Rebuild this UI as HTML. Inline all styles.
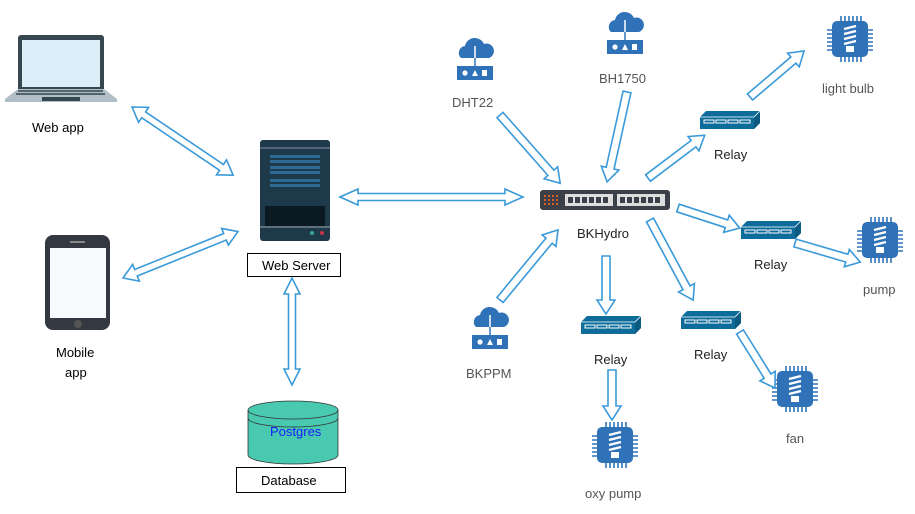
<!DOCTYPE html>
<html><head><meta charset="utf-8"><style>
html,body{margin:0;padding:0;background:#fff;}
svg{display:block;}
text{font-family:"Liberation Sans",sans-serif;font-size:13px;}
</style></head><body>
<svg width="915" height="514" viewBox="0 0 915 514" xmlns="http://www.w3.org/2000/svg">
<defs>
<g id="chip">
 <g stroke="#2f72b8" stroke-width="1.6">
  <path d="M16 2v8M20 2v8M24 2v8M28 2v8M32 2v8M36 2v8M16 40v8M20 40v8M24 40v8M28 40v8M32 40v8M36 40v8M2 16h8M2 20h8M2 24h8M2 28h8M2 32h8M2 36h8M40 16h8M40 20h8M40 24h8M40 28h8M40 32h8M40 36h8"/>
 </g>
 <rect x="7" y="7" width="36" height="36" rx="5" fill="#2f72b8"/>
 <g stroke="#fff" stroke-width="2.2" fill="none"><path d="M19 15l12-3M19 20l12-3M19 25l12-3M19 30l12-3"/></g>
 <rect x="21" y="32" width="8" height="6" fill="#fff"/>
</g>
<g id="cloud">
 <path d="M6 22a7 7 0 0 1 4-12a10 10 0 0 1 19-2a7 7 0 0 1 5 14z" fill="#2f72b8"/>
 <line x1="20" y1="10" x2="20" y2="32" stroke="#fff" stroke-width="1.5"/>
 <line x1="20" y1="22" x2="20" y2="32" stroke="#2f72b8" stroke-width="1.5"/>
 <rect x="2" y="30" width="36" height="14" fill="#2f72b8"/>
 <circle cx="10" cy="37" r="2.6" fill="#fff"/><path d="M17 40l3-6 3 6z" fill="#fff"/><rect x="27" y="34" width="5" height="6" fill="#fff"/>
</g>
<g id="relay">
 <path d="M0 6l6-6h54v12l-6 6H0z" fill="#0e6c9b"/>
 <path d="M54 6l6-6v12l-6 6z" fill="#0a5a82"/>
 <path d="M0 6h54l6-6" stroke="#fff" stroke-width="0.8" fill="none"/>
 <g fill="none" stroke="#fff" stroke-width="1"><rect x="4" y="9" width="10" height="3"/><rect x="16" y="9" width="10" height="3"/><rect x="28" y="9" width="10" height="3"/><rect x="40" y="9" width="10" height="3"/></g>
</g>
</defs>

<!-- laptop -->
<rect x="18" y="35" width="86" height="58" rx="3" fill="#37474f"/>
<rect x="22" y="40" width="78" height="47" fill="#dceef8"/>
<path d="M5 99l13-10h86l13 10v3H5z" fill="#b0bec5"/>
<g stroke="#37474f" stroke-width="1.5"><path d="M18 91h85M16 94h89"/></g>
<rect x="42" y="97" width="38" height="4" fill="#37474f"/>
<text x="32" y="132">Web app</text>

<!-- phone -->
<rect x="45" y="235" width="65" height="95" rx="8" fill="#333841"/>
<rect x="50" y="248" width="56" height="70" fill="#f8fbfd"/>
<rect x="70" y="241" width="15" height="2" fill="#888"/>
<circle cx="78" cy="324" r="4" fill="#555"/>
<text x="56" y="357">Mobile</text><text x="65" y="377">app</text>

<!-- server -->
<rect x="260" y="140" width="70" height="101" rx="3" fill="#1e3a4a"/>
<line x1="260" y1="148" x2="330" y2="148" stroke="#aac" stroke-width="0.8"/>
<g fill="#2d6a94"><rect x="270" y="155" width="50" height="3"/><rect x="270" y="160" width="50" height="3"/><rect x="270" y="166" width="50" height="3"/><rect x="270" y="171" width="50" height="3"/><rect x="270" y="179" width="50" height="3"/><rect x="270" y="184" width="50" height="3"/></g>
<rect x="265" y="206" width="60" height="20" fill="#0b1a22"/>
<line x1="260" y1="227" x2="330" y2="227" stroke="#ccc" stroke-width="0.8"/>
<circle cx="312" cy="233" r="2" fill="#3a9"/><circle cx="322" cy="233" r="2" fill="#c34"/>
<rect x="247.5" y="253.5" width="93" height="23" fill="#fff" stroke="#000"/>
<text x="262" y="270" fill="#000">Web Server</text>

<!-- DB -->
<path d="M248 410v45a45 9 0 0 0 90 0v-45" fill="#48c9b0" stroke="#333" stroke-width="0.8"/>
<ellipse cx="293" cy="410" rx="45" ry="9" fill="#48c9b0" stroke="#333" stroke-width="0.8"/>
<path d="M248 418a45 9 0 0 0 90 0" fill="none" stroke="#333" stroke-width="0.8"/>
<text x="270" y="436" fill="#1a1aff">Postgres</text>
<rect x="236.5" y="467.5" width="109" height="25" fill="#fff" stroke="#000"/>
<text x="261" y="485" fill="#000">Database</text>

<!-- switch -->
<rect x="540" y="190" width="130" height="20" rx="3" fill="#3a3f48"/>
<rect x="565" y="194" width="48" height="12" fill="#ddd"/><rect x="617" y="194" width="48" height="12" fill="#ddd"/>
<g fill="#e05a2a"><rect x="544" y="195" width="2" height="2"/><rect x="548" y="195" width="2" height="2"/><rect x="552" y="195" width="2" height="2"/><rect x="556" y="195" width="2" height="2"/><rect x="544" y="199" width="2" height="2"/><rect x="548" y="199" width="2" height="2"/><rect x="552" y="199" width="2" height="2"/><rect x="556" y="199" width="2" height="2"/><rect x="544" y="203" width="2" height="2"/><rect x="548" y="203" width="2" height="2"/><rect x="552" y="203" width="2" height="2"/><rect x="556" y="203" width="2" height="2"/></g>
<g fill="#3a3f48"><rect x="568" y="197" width="5" height="6"/><rect x="575" y="197" width="5" height="6"/><rect x="582" y="197" width="5" height="6"/><rect x="589" y="197" width="5" height="6"/><rect x="596" y="197" width="5" height="6"/><rect x="603" y="197" width="5" height="6"/><rect x="620" y="197" width="5" height="6"/><rect x="627" y="197" width="5" height="6"/><rect x="634" y="197" width="5" height="6"/><rect x="641" y="197" width="5" height="6"/><rect x="648" y="197" width="5" height="6"/><rect x="655" y="197" width="5" height="6"/></g>
<text x="577" y="238" fill="#222">BKHydro</text>

<!-- sensors -->
<use href="#cloud" x="455" y="36"/><text x="452" y="107" fill="#555">DHT22</text>
<use href="#cloud" x="605" y="10"/><text x="599" y="83" fill="#555">BH1750</text>
<use href="#cloud" x="470" y="305"/><text x="466" y="378" fill="#555">BKPPM</text>

<!-- relays -->
<use href="#relay" x="700" y="111"/><text x="714" y="159" fill="#222">Relay</text>
<use href="#relay" x="741" y="221"/><text x="754" y="269" fill="#222">Relay</text>
<use href="#relay" x="581" y="316"/><text x="594" y="364" fill="#222">Relay</text>
<use href="#relay" x="681" y="311"/><text x="694" y="359" fill="#222">Relay</text>

<!-- chips -->
<use href="#chip" x="825" y="14"/><text x="822" y="93" fill="#555">light bulb</text>
<use href="#chip" x="855" y="215"/><text x="863" y="294" fill="#555">pump</text>
<use href="#chip" x="770" y="364"/><text x="786" y="443" fill="#555">fan</text>
<use href="#chip" x="590" y="420"/><text x="585" y="498" fill="#555">oxy pump</text>

<!-- arrows -->
<g fill="#fff" stroke="#3a9ad9" stroke-width="1.6" stroke-linejoin="miter">
 <g transform="translate(132,107) rotate(34)"><polygon points="0,0 14,-9 14,-3.5 108,-3.5 108,-9 122,0 108,9 108,3.5 14,3.5 14,9"/></g>
 <g transform="translate(123,278) rotate(-22)"><polygon points="0,0 14,-9 14,-3.5 110,-3.5 110,-9 124,0 110,9 110,3.5 14,3.5 14,9"/></g>
 <g transform="translate(340,197)"><polygon points="0,0 18,-8 18,-3.5 165,-3.5 165,-8 183,0 165,8 165,3.5 18,3.5 18,8"/></g>
 <g transform="translate(292,278) rotate(90)"><polygon points="0,0 16,-8 16,-3.5 91,-3.5 91,-8 107,0 91,8 91,3.5 16,3.5 16,8"/></g>
 <g transform="translate(500,115) rotate(48.6)"><polygon points="0,-4 77,-4 77,-9 91,0 77,9 77,4 0,4"/></g>
 <g transform="translate(627,92) rotate(102.5)"><polygon points="0,-4 78,-4 78,-9 92,0 78,9 78,4 0,4"/></g>
 <g transform="translate(648,178) rotate(-37)"><polygon points="0,-4 57,-4 57,-9 71,0 57,9 57,4 0,4"/></g>
 <g transform="translate(750,97) rotate(-40.4)"><polygon points="0,-4 57,-4 57,-9 71,0 57,9 57,4 0,4"/></g>
 <g transform="translate(678,208) rotate(18)"><polygon points="0,-4 51,-4 51,-9 65,0 51,9 51,4 0,4"/></g>
 <g transform="translate(795,243) rotate(16.3)"><polygon points="0,-4 54,-4 54,-9 68,0 54,9 54,4 0,4"/></g>
 <g transform="translate(500,300) rotate(-50.4)"><polygon points="0,-4 77,-4 77,-9 91,0 77,9 77,4 0,4"/></g>
 <g transform="translate(606,256) rotate(90)"><polygon points="0,-4 44,-4 44,-9 58,0 44,9 44,4 0,4"/></g>
 <g transform="translate(650,220) rotate(61.7)"><polygon points="0,-4 77,-4 77,-9 91,0 77,9 77,4 0,4"/></g>
 <g transform="translate(612,370) rotate(90)"><polygon points="0,-4 36,-4 36,-9 50,0 36,9 36,4 0,4"/></g>
 <g transform="translate(740,332) rotate(58)"><polygon points="0,-4 52,-4 52,-9 66,0 52,9 52,4 0,4"/></g>
</g>
</svg>
</body></html>
